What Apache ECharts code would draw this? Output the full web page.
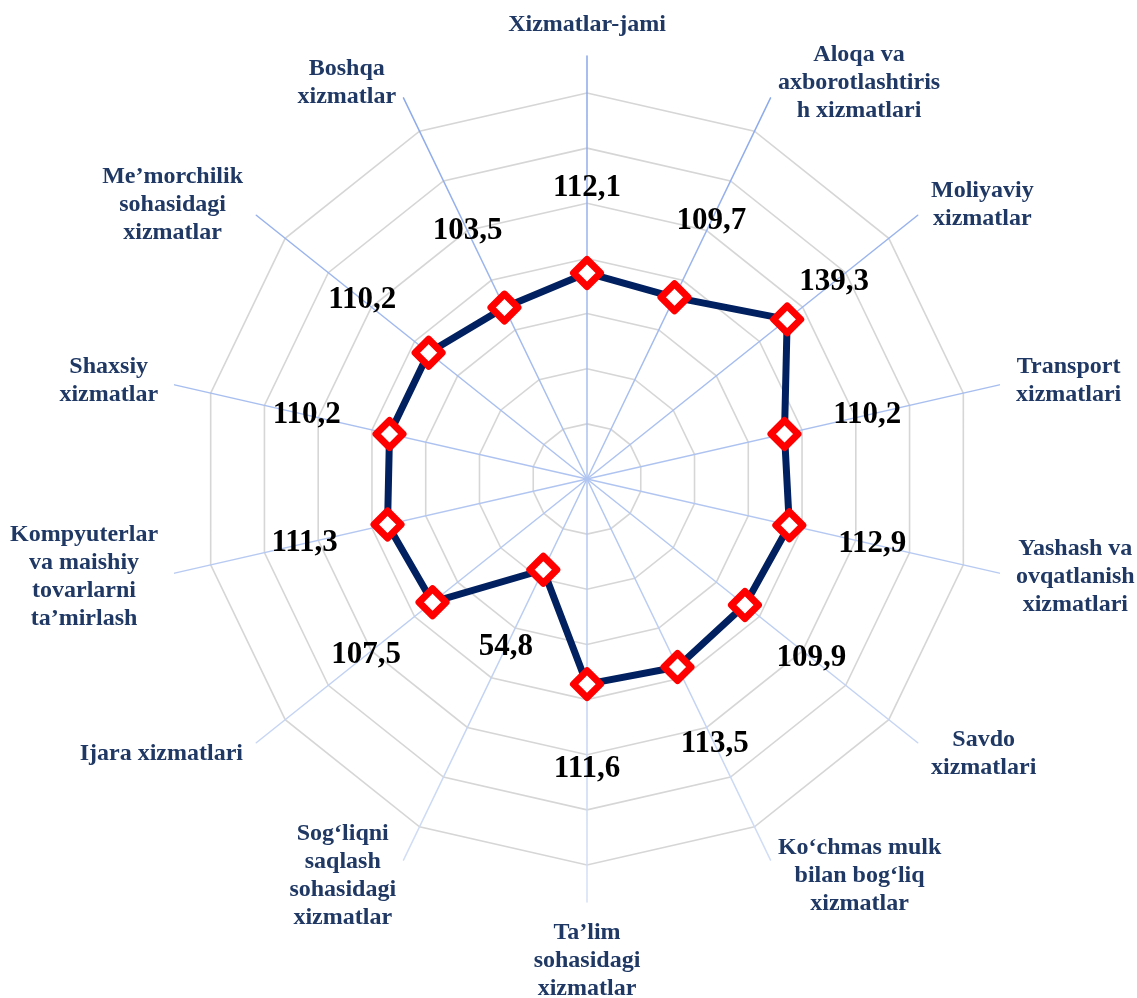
<!DOCTYPE html>
<html>
<head>
<meta charset="utf-8">
<script src="https://cdn.jsdelivr.net/npm/echarts@6/dist/echarts.min.js"></script>
<style>
html, body { margin: 0; padding: 0; background: #ffffff; }
#chart { width: 1137px; height: 998px; }
</style>
</head>
<body>
<div id="chart"></div>
<script>
// ---- data (clockwise from the top) ----
const categories = [
  'Xizmatlar-jami',
  'Aloqa va\naxborotlashtiris\nh xizmatlari',
  'Moliyaviy\nxizmatlar',
  'Transport\nxizmatlari',
  'Yashash va\novqatlanish\nxizmatlari',
  'Savdo\nxizmatlari',
  'Ko‘chmas mulk\nbilan bog‘liq\nxizmatlar',
  'Ta’lim\nsohasidagi\nxizmatlar',
  'Sog‘liqni\nsaqlash\nsohasidagi\nxizmatlar',
  'Ijara xizmatlari',
  'Kompyuterlar\nva maishiy\ntovarlarni\nta’mirlash',
  'Shaxsiy\nxizmatlar',
  'Me’morchilik\nsohasidagi\nxizmatlar',
  'Boshqa\nxizmatlar'
];
const values = [112.1, 109.7, 139.3, 110.2, 112.9, 109.9, 113.5, 111.6, 54.8, 107.5, 111.3, 110.2, 110.2, 103.5];
const scaleMin = 0;
const scaleMax = 210;
const scaleSplits = 7;

// ---- layout / style ----
const CENTER = [587, 479];
const R_GRID = 386;
const R_AXIS = 423;
const LABEL_GAP_PX = [85, 85, 60, 85, 85, 85, 86, 85, 86, 85, 85, 85, 85, 85];
const SERIF = "'Liberation Serif', 'Times New Roman', serif";

// ECharts radar runs counter-clockwise; reorder so the picture runs clockwise
const n = categories.length;
const order = [0];
for (let i = n - 1; i >= 1; i--) order.push(i);

const pxPerUnit = R_GRID / (scaleMax - scaleMin);
const ordCats = order.map(i => categories[i]);
const ordVals = order.map(i => values[i]);
const ordLabelPos = order.map(i => values[i] + LABEL_GAP_PX[i] / pxPerUnit);

function fmt(v) { return v.toFixed(1).replace('.', ','); }

const chart = echarts.init(document.getElementById('chart'), null, { renderer: 'canvas' });

const option = {
  animation: false,
  backgroundColor: '#ffffff',
  radar: [
    {
      center: CENTER,
      radius: R_GRID,
      startAngle: 90,
      shape: 'polygon',
      splitNumber: scaleSplits,
      indicator: ordCats.map(c => ({ name: c, min: scaleMin, max: scaleMax })),
      axisName: { show: false },
      axisLine: { show: false },
      axisTick: { show: false },
      axisLabel: { show: false },
      splitArea: { show: false },
      splitLine: { show: true, lineStyle: { color: '#D6D6D6', width: 1.6 } }
    },
    {
      center: CENTER,
      radius: R_AXIS,
      startAngle: 90,
      shape: 'polygon',
      splitNumber: 1,
      indicator: ordCats.map(c => ({ name: c, min: scaleMin, max: scaleMax })),
      nameGap: 17,
      axisName: {
        show: true,
        formatter: function (name) {
          return name.split('\n').map(l => '{c|' + l + '}').join('\n');
        },
        rich: {
          c: {
            align: 'center',
            fontFamily: SERIF,
            fontWeight: 'bold',
            fontSize: 24,
            lineHeight: 28,
            color: '#1F3864'
          }
        }
      },
      axisLine: {
        show: true,
        lineStyle: {
          width: 1.5,
          color: {
            type: 'linear', x: 0, y: 56, x2: 0, y2: 903, global: true,
            colorStops: [
              { offset: 0, color: '#88A6EA' },
              { offset: 0.5, color: '#AFC4F0' },
              { offset: 1, color: '#D6E1F6' }
            ]
          }
        }
      },
      axisTick: { show: false },
      axisLabel: { show: false },
      splitArea: { show: false },
      splitLine: { show: false }
    }
  ],
  series: [
    {
      type: 'radar',
      radarIndex: 0,
      z: 5,
      silent: true,
      symbol: 'diamond',
      symbolSize: 27,
      lineStyle: { color: '#002060', width: 7 },
      itemStyle: { color: '#ffffff', borderColor: '#FF0000', borderWidth: 7, borderJoin: 'round' },
      data: [{ value: ordVals, name: 'values' }]
    },
    {
      type: 'radar',
      radarIndex: 0,
      z: 6,
      silent: true,
      symbol: 'circle',
      symbolSize: 1,
      lineStyle: { width: 0, color: 'rgba(0,0,0,0)' },
      itemStyle: { color: 'rgba(0,0,0,0)', borderWidth: 0 },
      label: {
        show: true,
        position: 'inside',
        fontFamily: SERIF,
        fontWeight: 'bold',
        fontSize: 31,
        color: '#000000',
        formatter: function (p) {
          let v = p.value;
          if (Array.isArray(v)) {
            if (p.dimensionIndex != null) return fmt(ordVals[p.dimensionIndex]);
            return '';
          }
          let idx = ordLabelPos.findIndex(x => Math.abs(x - v) < 1e-6);
          return idx >= 0 ? fmt(ordVals[idx]) : '';
        }
      },
      data: [{ value: ordLabelPos, name: 'labels' }]
    }
  ]
};

chart.setOption(option);
</script>
</body>
</html>
